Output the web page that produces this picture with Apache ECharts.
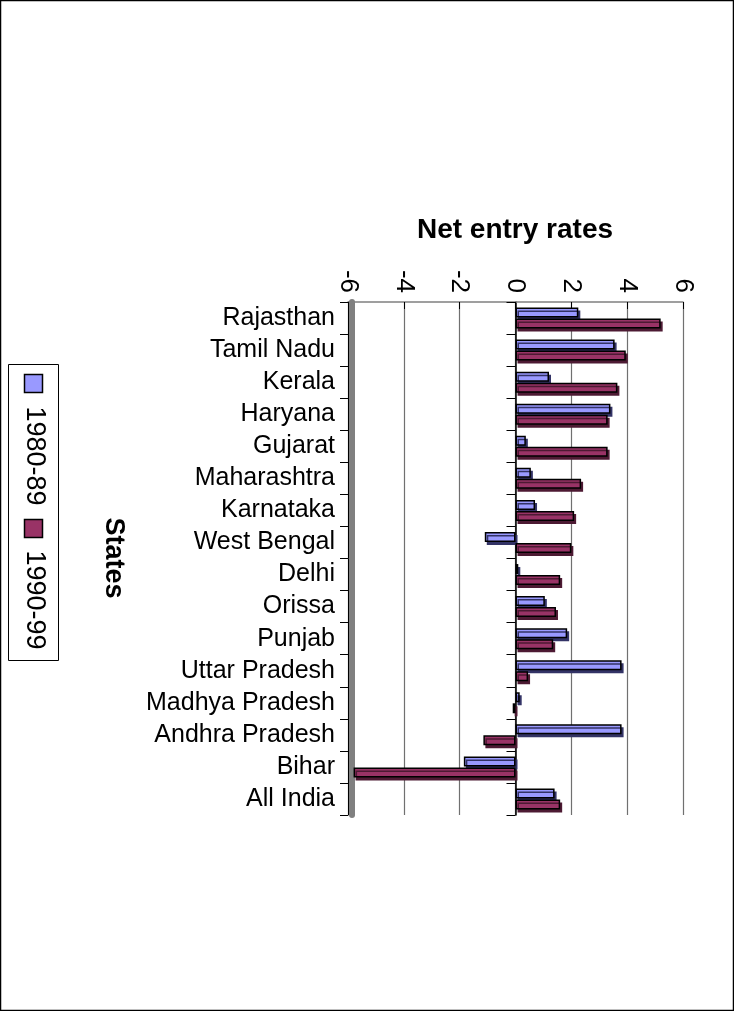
<!DOCTYPE html>
<html>
<head>
<meta charset="utf-8">
<script src="https://cdn.jsdelivr.net/npm/echarts@6/dist/echarts.min.js"></script>
<style>
html, body { margin: 0; padding: 0; background: #fff; }
#chart { width: 734px; height: 1011px; }
</style>
</head>
<body>
<div id="chart"></div>
<script>
// states, top to bottom
var states = ['Rajasthan', 'Tamil Nadu', 'Kerala', 'Haryana', 'Gujarat', 'Maharashtra', 'Karnataka',
    'West Bengal', 'Delhi', 'Orissa', 'Punjab', 'Uttar Pradesh', 'Madhya Pradesh', 'Andhra Pradesh',
    'Bihar', 'All India'];
var rates8089 = [2.25, 3.55, 1.2, 3.4, 0.37, 0.55, 0.7, -1.1, 0.1, 1.05, 1.85, 3.8, 0.15, 3.8, -1.85, 1.4];
var rates9099 = [5.2, 3.95, 3.65, 3.3, 3.3, 2.35, 2.1, 2.0, 1.6, 1.45, 1.35, 0.45, -0.1, -1.15, -5.8, 1.6];
var seriesNames = ['1980-89', '1990-99'];
var colors = ['#9999FF', '#993366'];
var depthColors = ['#333366', '#4d1a33'];

var font = '"Liberation Sans", Arial, sans-serif';
var myChart = echarts.init(document.getElementById('chart'));

function barStyle(i) {
    return {
        color: colors[i],
        borderColor: '#000',
        borderWidth: 1.5,
        shadowColor: depthColors[i],
        shadowBlur: 0,
        shadowOffsetX: 2,
        shadowOffsetY: 3
    };
}

var option = {
    animation: false,
    backgroundColor: '#fff',
    textStyle: { fontFamily: font },
    title: {
        text: 'Net entry rates',
        left: 510,
        textAlign: 'center',
        top: 211,
        textStyle: { fontSize: 28, fontWeight: 'bold', color: '#000', fontFamily: font }
    },
    grid: { left: 348, top: 302, width: 335, height: 513, containLabel: false },
    xAxis: {
        type: 'value',
        position: 'top',
        min: -6,
        max: 6,
        interval: 2,
        axisLine: { show: true, onZero: false, lineStyle: { color: '#808080', width: 1.5 } },
        axisTick: { show: true, inside: true, length: 7, lineStyle: { color: '#000' } },
        axisLabel: { rotate: 90, fontSize: 26, color: '#000', margin: 9, fontFamily: font },
        splitLine: { show: true, lineStyle: { color: '#707070', width: 1.2 } }
    },
    yAxis: [{
        type: 'category',
        data: states,
        inverse: true,
        position: 'left',
        axisLine: { show: true, onZero: false, lineStyle: { color: '#000', width: 1 } },
        axisTick: { show: true, length: 8, lineStyle: { color: '#000' } },
        axisLabel: { interval: 0, hideOverlap: false, fontSize: 25, color: '#000', margin: 13, fontFamily: font }
    }, {
        // wall of the 3D floor
        type: 'category',
        data: states,
        inverse: true,
        position: 'left',
        offset: -4,
        axisLine: { show: true, onZero: false, lineStyle: { color: '#808080', width: 6 } },
        axisTick: { show: false },
        axisLabel: { show: false }
    }, {
        // line at zero
        type: 'category',
        data: states,
        inverse: true,
        position: 'left',
        axisLine: { show: true, onZero: true, lineStyle: { color: '#000', width: 1.5 } },
        axisTick: { show: true, length: 9, lineStyle: { color: '#000' } },
        axisLabel: { show: false }
    }],
    series: [{
        name: seriesNames[0],
        type: 'bar',
        data: rates8089,
        barWidth: 10,
        barGap: '10%',
        itemStyle: barStyle(0)
    }, {
        name: seriesNames[1],
        type: 'bar',
        data: rates9099,
        barWidth: 10,
        barGap: '10%',
        itemStyle: barStyle(1)
    }],
    graphic: [
        { type: 'rect', shape: { x: 0.5, y: 0.5, width: 733, height: 1010 }, style: { fill: 'none', stroke: '#000', lineWidth: 1.5 } },
        { type: 'text', x: 113, y: 558, rotation: -Math.PI / 2,
          style: { text: 'States', font: 'bold 27px ' + font, fill: '#000', textAlign: 'center', textVerticalAlign: 'middle' } },
        { type: 'rect', shape: { x: 8.5, y: 364.5, width: 50, height: 296 }, style: { fill: '#fff', stroke: '#000', lineWidth: 1 } },
        { type: 'rect', shape: { x: 24.5, y: 374.5, width: 18, height: 18 }, style: { fill: colors[0], stroke: '#000', lineWidth: 1.5 } },
        { type: 'text', x: 34, y: 456, rotation: -Math.PI / 2,
          style: { text: seriesNames[0], font: '27px ' + font, fill: '#000', textAlign: 'center', textVerticalAlign: 'middle' } },
        { type: 'rect', shape: { x: 24.5, y: 519.5, width: 18, height: 18 }, style: { fill: colors[1], stroke: '#000', lineWidth: 1.5 } },
        { type: 'text', x: 34, y: 600, rotation: -Math.PI / 2,
          style: { text: seriesNames[1], font: '27px ' + font, fill: '#000', textAlign: 'center', textVerticalAlign: 'middle' } }
    ]
};

myChart.setOption(option);
</script>
</body>
</html>
